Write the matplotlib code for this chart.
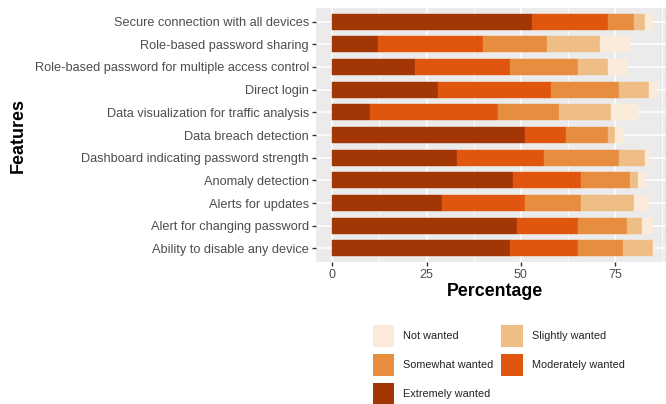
import matplotlib
matplotlib.use("Agg")
import matplotlib.pyplot as plt
from matplotlib.patches import Patch
import numpy as np

plt.rcParams['font.family'] = ['Liberation Sans', 'DejaVu Sans']

features = [
    "Secure connection with all devices",
    "Role-based password sharing",
    "Role-based password for multiple access control",
    "Direct login",
    "Data visualization for traffic analysis",
    "Data breach detection",
    "Dashboard indicating password strength",
    "Anomaly detection",
    "Alerts for updates",
    "Alert for changing password",
    "Ability to disable any device",
]

extremely = [53, 12, 22, 28, 10, 51, 33, 48, 29, 49, 47]
moderately = [20, 28, 25, 30, 34, 11, 23, 18, 22, 16, 18]
somewhat = [7, 17, 18, 18, 16, 11, 20, 13, 15, 13, 12]
slightly = [3, 14, 8, 8, 14, 2, 7, 2, 14, 4, 8]
not_wanted = [2, 8, 5, 2, 7, 2, 1, 2, 4, 3, 0.3]

levels = ["Extremely wanted", "Moderately wanted", "Somewhat wanted",
          "Slightly wanted", "Not wanted"]
series = [extremely, moderately, somewhat, slightly, not_wanted]
colors = ["#A33605", "#E0560F", "#E68D3F", "#EFBD86", "#FAEBDB"]

x_ticks = [0, 25, 50, 75]

W, H = 666, 404
fig = plt.figure(figsize=(W / 100, H / 100), dpi=100)
left, right, top, bottom = 316, 673, 8, 262
ax = fig.add_axes([left / W, 1 - bottom / H, (right - left) / W, (bottom - top) / H])
ax.set_facecolor("#EBEBEB")
for s in ax.spines.values():
    s.set_visible(False)

y = np.arange(len(features))
cum = np.zeros(len(features))
for vals, col, lab in zip(series, colors, levels):
    v = np.array(vals, dtype=float)
    ax.barh(y, v, left=cum, height=0.7, color=col, label=lab, zorder=3,
            edgecolor=col, linewidth=0.3)
    cum += v

ax.set_xlim(-4.3, 90.3)
ax.set_ylim(len(features) - 0.4, -0.6)
ax.set_yticks(y)
ax.set_yticklabels(features, fontsize=9.2)
ax.set_xticks(x_ticks)
ax.set_xticklabels([str(t) for t in x_ticks], fontsize=9)
ax.set_xticks([12.5, 37.5, 62.5, 87.5], minor=True)
ax.tick_params(axis='both', which='major', length=3, width=1, color="#333333",
               labelcolor="#4D4D4D", pad=2)
ax.tick_params(axis='both', which='minor', length=0)
ax.grid(True, which='major', color="white", linewidth=1.1, zorder=0)
ax.grid(True, which='minor', axis='x', color="white", linewidth=0.55, zorder=0)
ax.set_axisbelow(True)

fig.text(495 / W, 1 - 292 / H, "Percentage", ha='center', va='center',
         fontsize=12.8, fontweight='bold', color='black')
fig.text(18 / W, 1 - 135 / H, "Features", ha='center', va='center',
         rotation=90, fontsize=13, fontweight='bold', color='black')

handle_map = {lab: Patch(facecolor=c, edgecolor='none') for lab, c in zip(levels, colors)}
order = ["Not wanted", "Somewhat wanted", "Extremely wanted",
         "Slightly wanted", "Moderately wanted"]
leg = fig.legend([handle_map[o] for o in order], order, ncol=2,
                 loc='upper left', bbox_to_anchor=(373 / W, 1 - 325 / H),
                 frameon=False, fontsize=7.8, handlelength=1.98, handleheight=2.68,
                 handletextpad=0.8, columnspacing=0.75, labelspacing=0.69,
                 borderpad=0, borderaxespad=0)
for t in leg.get_texts():
    t.set_color("#222222")

fig.savefig("out.png", dpi=100)
